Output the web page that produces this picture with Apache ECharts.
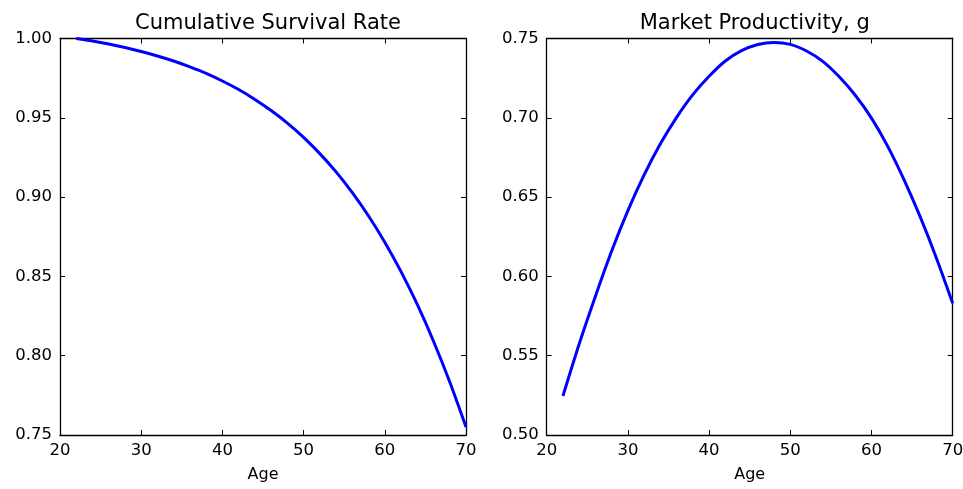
<!DOCTYPE html>
<html>
<head>
<meta charset="utf-8">
<script src="https://cdn.jsdelivr.net/npm/echarts@6/dist/echarts.min.js"></script>
<style>
  html, body { margin: 0; padding: 0; background: #fff; }
  #chart { width: 963px; height: 489px; }
</style>
</head>
<body>
<div id="chart"></div>
<script>
const ages = [22, 24, 26, 28, 30, 32, 34, 36, 38, 40, 42, 44, 46, 48, 50, 52, 54, 56, 58, 60, 62, 64, 66, 68, 70];
const survival = [1.0000, 0.9984, 0.9965, 0.9943, 0.9918, 0.9890, 0.9858, 0.9821, 0.9780, 0.9732, 0.9678, 0.9616, 0.9546,
                  0.9467, 0.9377, 0.9274, 0.9159, 0.9028, 0.8881, 0.8716, 0.8530, 0.8323, 0.8091, 0.7834, 0.7550];
const productivity = [0.5246, 0.5574, 0.5875, 0.6160, 0.6415, 0.6640, 0.6836, 0.7003, 0.7146, 0.7262, 0.7358, 0.7423, 0.7462,
                      0.7475, 0.7463, 0.7421, 0.7356, 0.7260, 0.7142, 0.6998, 0.6820, 0.6610, 0.6375, 0.6115, 0.5830];
const titles = ['Cumulative Survival Rate', 'Market Productivity, g'];
const xLabel = 'Age';
const xRange = [20, 70, 10];
const yRanges = [[0.75, 1.00, 0.05], [0.50, 0.75, 0.05]];

const FONT = 'DejaVu Sans';
const grids = [
  { left: 60, top: 38.5, width: 406, height: 396.5, outerBoundsMode: 'none', containLabel: false },
  { left: 546.7, top: 38.5, width: 406, height: 396.5, outerBoundsMode: 'none', containLabel: false }
];

const tickStyle = { show: true, inside: true, length: 5, lineStyle: { color: '#000', width: 1 } };
const lineStyle = { show: true, onZero: false, lineStyle: { color: '#000', width: 1.3 } };

const xAxis = [], yAxis = [], series = [], title = [];
[0, 1].forEach(i => {
  const [ymin, ymax, yint] = yRanges[i];
  xAxis.push({
    type: 'value', gridIndex: i, position: 'bottom', min: xRange[0], max: xRange[1], interval: xRange[2],
    axisLine: lineStyle, axisTick: tickStyle, splitLine: { show: false },
    axisLabel: { color: '#000', fontFamily: FONT, fontSize: 16.5, margin: 7 },
    name: xLabel, nameLocation: 'middle', nameGap: 32,
    nameTextStyle: { color: '#000', fontFamily: FONT, fontSize: 16 }
  });
  xAxis.push({
    type: 'value', gridIndex: i, position: 'top', min: xRange[0], max: xRange[1], interval: xRange[2],
    axisLine: lineStyle, axisTick: tickStyle, splitLine: { show: false }, axisLabel: { show: false }
  });
  yAxis.push({
    type: 'value', gridIndex: i, position: 'left', min: ymin, max: ymax, interval: yint,
    axisLine: lineStyle, axisTick: tickStyle, splitLine: { show: false },
    axisLabel: { color: '#000', fontFamily: FONT, fontSize: 16.5, margin: 8, formatter: v => v.toFixed(2) }
  });
  yAxis.push({
    type: 'value', gridIndex: i, position: 'right', min: ymin, max: ymax, interval: yint,
    axisLine: lineStyle, axisTick: tickStyle, splitLine: { show: false }, axisLabel: { show: false }
  });
  const vals = i === 0 ? survival : productivity;
  series.push({
    type: 'line', xAxisIndex: i * 2, yAxisIndex: i * 2,
    data: ages.map((a, k) => [a, vals[k]]),
    showSymbol: false, smooth: 0.3, clip: true,
    lineStyle: { color: '#0000ff', width: 3 },
    itemStyle: { color: '#0000ff' }
  });
  title.push({
    text: titles[i], left: grids[i].left + grids[i].width / 2, top: 8, textAlign: 'center',
    textStyle: { color: '#000', fontFamily: FONT, fontSize: 21, fontWeight: 'normal' }
  });
});

const chart = echarts.init(document.getElementById('chart'), null, { renderer: 'canvas' });
chart.setOption({
  animation: false,
  backgroundColor: '#fff',
  title: title,
  grid: grids,
  xAxis: xAxis,
  yAxis: yAxis,
  series: series
});
</script>
</body>
</html>
